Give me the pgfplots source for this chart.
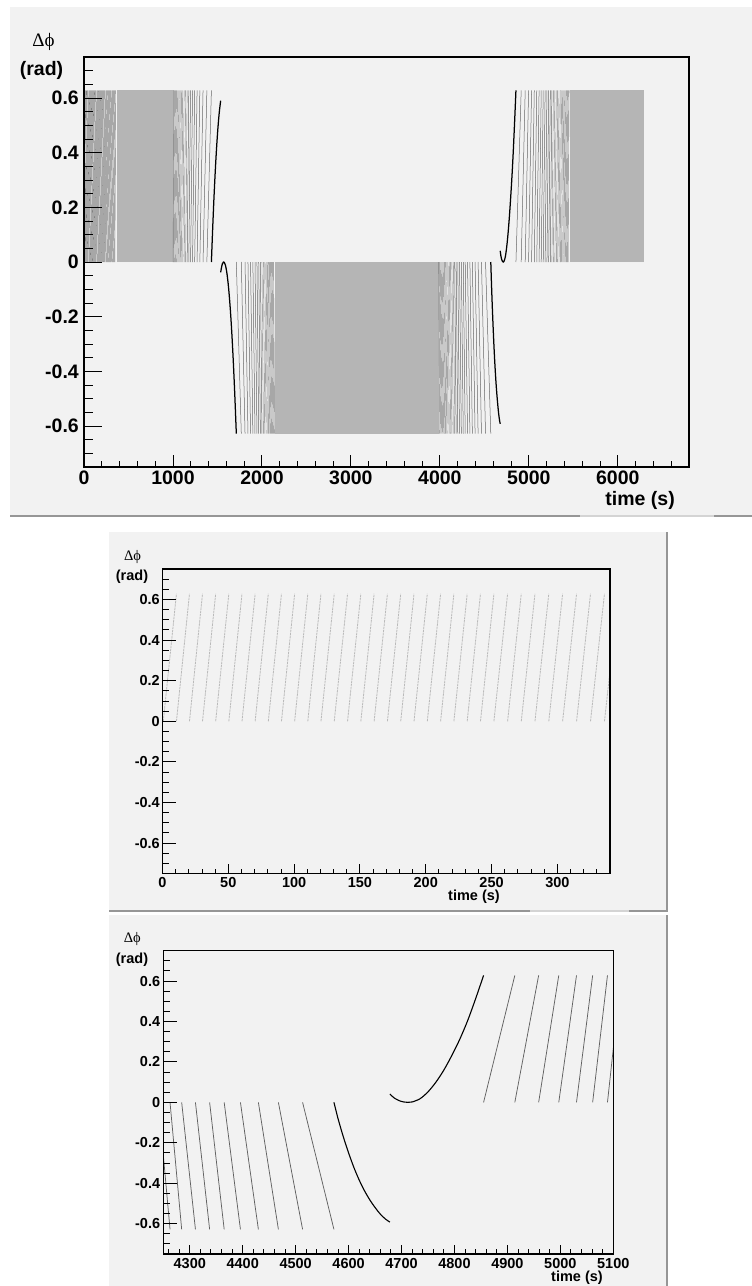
\documentclass[border=0pt]{standalone}
\usepackage{pgfplots}
\pgfplotsset{compat=1.18}
\usepackage{pgfplotstable}
\usepackage{fontspec}
\setmainfont{Liberation Sans}
\newfontfamily\greekserif{Liberation Serif}
\definecolor{panelbg}{RGB}{242,242,242}
\definecolor{shadowc}{RGB}{150,150,150}
\definecolor{shadowl}{RGB}{212,212,212}

% rising sawtooth lines, 0-357 s
\pgfplotstableread[row sep=\\]{
t y\\
0.6 0\\10.6 0.628\\nan nan\\10.6 0\\20.5 0.628\\nan nan\\20.5 0\\30.4 0.628\\nan nan\\30.4 0\\40.4 0.628\\nan nan\\
40.4 0\\50.4 0.628\\nan nan\\50.4 0\\60.4 0.628\\nan nan\\60.4 0\\70.4 0.628\\nan nan\\70.4 0\\80.4 0.628\\nan nan\\
80.4 0\\90.4 0.628\\nan nan\\90.4 0\\100.4 0.628\\nan nan\\100.4 0\\110.4 0.628\\nan nan\\110.4 0\\120.4 0.628\\nan nan\\
120.4 0\\130.5 0.628\\nan nan\\130.5 0\\140.6 0.628\\nan nan\\140.6 0\\150.7 0.628\\nan nan\\150.7 0\\160.8 0.628\\nan nan\\
160.8 0\\170.9 0.628\\nan nan\\170.9 0\\181.0 0.628\\nan nan\\181.0 0\\191.1 0.628\\nan nan\\191.1 0\\201.2 0.628\\nan nan\\
201.2 0\\211.3 0.628\\nan nan\\211.3 0\\221.4 0.628\\nan nan\\221.4 0\\231.5 0.628\\nan nan\\231.5 0\\241.6 0.628\\nan nan\\
241.6 0\\251.8 0.628\\nan nan\\251.8 0\\262.2 0.628\\nan nan\\262.2 0\\272.6 0.628\\nan nan\\272.6 0\\283.0 0.628\\nan nan\\
283.0 0\\293.5 0.628\\nan nan\\293.5 0\\304.0 0.628\\nan nan\\304.0 0\\314.6 0.628\\nan nan\\314.6 0\\325.2 0.628\\nan nan\\
325.2 0\\335.8 0.628\\nan nan\\335.8 0\\346.4 0.628\\nan nan\\346.4 0\\357.1 0.628\\
}\segA

% rising lines before the first turnaround
\pgfplotstableread[row sep=\\]{
t y\\
1000 0\\1011 0.628\\nan nan\\1011 0\\1022 0.628\\nan nan\\1022 0\\1033 0.628\\nan nan\\1033 0\\1044.5 0.628\\nan nan\\
1044.5 0\\1056.5 0.628\\nan nan\\1056.5 0\\1069 0.628\\nan nan\\1069 0\\1082 0.628\\nan nan\\1082 0\\1095.5 0.628\\nan nan\\
1095.5 0\\1110 0.628\\nan nan\\1110 0\\1125.5 0.628\\nan nan\\1125.5 0\\1142 0.628\\nan nan\\1142 0\\1159.5 0.628\\nan nan\\
1159.5 0\\1178 0.628\\nan nan\\1178 0\\1198 0.628\\nan nan\\1198 0\\1220 0.628\\nan nan\\1220 0\\1244 0.628\\nan nan\\
1244 0\\1271 0.628\\nan nan\\1271 0\\1302 0.628\\nan nan\\1302 0\\1338 0.628\\nan nan\\1338 0\\1381 0.628\\nan nan\\
1381 0\\1432 0.628\\
}\segAe

% descending lines after the first turnaround
\pgfplotstableread[row sep=\\]{
t y\\
1712 0\\1768 -0.628\\nan nan\\1768 0\\1810 -0.628\\nan nan\\1810 0\\1843 -0.628\\nan nan\\1843 0\\1872 -0.628\\nan nan\\
1872 0\\1898 -0.628\\nan nan\\1898 0\\1922 -0.628\\nan nan\\1922 0\\1944 -0.628\\nan nan\\1944 0\\1964 -0.628\\nan nan\\
1964 0\\1982.5 -0.628\\nan nan\\1982.5 0\\2000 -0.628\\nan nan\\2000 0\\2016.5 -0.628\\nan nan\\2016.5 0\\2032 -0.628\\nan nan\\
2032 0\\2046.5 -0.628\\nan nan\\2046.5 0\\2060 -0.628\\nan nan\\2060 0\\2073 -0.628\\nan nan\\2073 0\\2085.5 -0.628\\nan nan\\
2085.5 0\\2097.5 -0.628\\nan nan\\2097.5 0\\2109 -0.628\\nan nan\\2109 0\\2120 -0.628\\nan nan\\2120 0\\2131 -0.628\\nan nan\\
2131 0\\2142 -0.628\\
}\segBl

% descending lines before the second turnaround
\pgfplotstableread[row sep=\\]{
t y\\
3986 0\\3996.5 -0.628\\nan nan\\3996.5 0\\4007 -0.628\\nan nan\\4007 0\\4018 -0.628\\nan nan\\4018 0\\4029 -0.628\\nan nan\\
4029 0\\4040.5 -0.628\\nan nan\\4040.5 0\\4052.5 -0.628\\nan nan\\4052.5 0\\4065 -0.628\\nan nan\\4065 0\\4078 -0.628\\nan nan\\
4078 0\\4091.5 -0.628\\nan nan\\4091.5 0\\4105.5 -0.628\\nan nan\\4105.5 0\\4120 -0.628\\nan nan\\4120 0\\4135 -0.628\\nan nan\\
4135 0\\4150.5 -0.628\\nan nan\\4150.5 0\\4166.5 -0.628\\nan nan\\4166.5 0\\4183 -0.628\\nan nan\\4183 0\\4201 -0.628\\nan nan\\
4201 0\\4220.5 -0.628\\nan nan\\4220.5 0\\4241 -0.628\\nan nan\\4241 0\\4262.7 -0.628\\nan nan\\4262.7 0\\4284.7 -0.628\\nan nan\\
4284.7 0\\4310.7 -0.628\\nan nan\\4310.7 0\\4337.5 -0.628\\nan nan\\4337.5 0\\4365 -0.628\\nan nan\\4365 0\\4395.7 -0.628\\nan nan\\
4395.7 0\\4429.6 -0.628\\nan nan\\4429.6 0\\4467.4 -0.628\\nan nan\\4467.4 0\\4513.1 -0.628\\nan nan\\4513.1 0\\4572.3 -0.628\\
}\segBr

% rising lines after the second turnaround
\pgfplotstableread[row sep=\\]{
t y\\
4855 0\\4914 0.628\\nan nan\\4914 0\\4959 0.628\\nan nan\\4959 0\\4997 0.628\\nan nan\\4997 0\\5030.5 0.628\\nan nan\\
5030.5 0\\5061 0.628\\nan nan\\5061 0\\5089 0.628\\nan nan\\5089 0\\5115 0.628\\nan nan\\5115 0\\5139 0.628\\nan nan\\
5139 0\\5161.5 0.628\\nan nan\\5161.5 0\\5183 0.628\\nan nan\\5183 0\\5203.5 0.628\\nan nan\\5203.5 0\\5223 0.628\\nan nan\\
5223 0\\5241.5 0.628\\nan nan\\5241.5 0\\5259 0.628\\nan nan\\5259 0\\5276 0.628\\nan nan\\5276 0\\5292.5 0.628\\nan nan\\
5292.5 0\\5308.5 0.628\\nan nan\\5308.5 0\\5324 0.628\\nan nan\\5324 0\\5339 0.628\\nan nan\\5339 0\\5353.5 0.628\\nan nan\\
5353.5 0\\5367.5 0.628\\nan nan\\5367.5 0\\5381 0.628\\nan nan\\5381 0\\5394 0.628\\nan nan\\5394 0\\5406.5 0.628\\nan nan\\
5406.5 0\\5418.5 0.628\\nan nan\\5418.5 0\\5430 0.628\\nan nan\\5430 0\\5441 0.628\\nan nan\\5441 0\\5452 0.628\\
}\segC

\pgfplotstableread[row sep=\\]{
t y\\ 1432 0\\1445 0.112\\1460 0.229\\1475 0.330\\1490 0.417\\1505 0.489\\1520 0.546\\1536 0.590\\
}\curA
\pgfplotstableread[row sep=\\]{
t y\\ 1536 -0.038\\1545 -0.021\\1555 -0.007\\1565 -0.001\\1570 0\\1578 -0.002\\1590 -0.012\\1605 -0.038\\1620 -0.078\\
1635 -0.132\\1650 -0.199\\1665 -0.281\\1680 -0.377\\1695 -0.487\\1712 -0.628\\
}\curB
\pgfplotstableread[row sep=\\]{
t y\\ 4572.3 0\\4580 -0.080\\4590 -0.170\\4600 -0.250\\4610 -0.322\\4620 -0.384\\4630 -0.437\\4640 -0.482\\
4650 -0.520\\4660 -0.553\\4670 -0.578\\4678 -0.592\\
}\curC
\pgfplotstableread[row sep=\\]{
t y\\ 4678 0.041\\4686 0.022\\4695 0.009\\4704 0.002\\4712 0\\4720 0.002\\4735 0.018\\4750 0.052\\4765 0.100\\
4780 0.160\\4795 0.232\\4810 0.312\\4825 0.405\\4840 0.513\\4855 0.628\\
}\curD

\pgfplotsset{
  rootax/.style={
    scale only axis, anchor=north west, axis on top,
    axis line style={line width=1.3pt, black},
    tick align=inside, tick style={black, line width=0.9pt},
    xtick pos=bottom, ytick pos=left,
    yticklabel style={anchor=east, inner sep=0pt},
    xticklabel style={anchor=base, inner sep=0pt},
    unbounded coords=jump, scaled ticks=false,
    ymin=-0.75, ymax=0.75,
  },
  yminors/.style={minor ytick={-0.7,-0.65,-0.55,-0.5,-0.45,-0.35,-0.3,-0.25,-0.15,-0.1,-0.05,0.05,0.1,0.15,0.25,0.3,0.35,0.45,0.5,0.55,0.65,0.7}},
  ymajors/.style={ytick={-0.6,-0.4,-0.2,0,0.2,0.4,0.6}, yticklabels={-0.6,-0.4,-0.2,0,0.2,0.4,0.6}},
  xonly/.style={ytick=\empty, axis line style={draw=none}},
  fontA/.style={font=\bfseries\fontsize{19.5}{21}\selectfont},
  fontB/.style={font=\bfseries\fontsize{14.5}{16}\selectfont},
  dense/.style={draw=black!29, line width=0.4pt},
  slant/.style={draw=black!50, line width=0.4pt},
  edge/.style={draw=black!60, line width=0.5pt},
  curve/.style={draw=black, line width=1.25pt, smooth},
}

\begin{document}
\begin{tikzpicture}
\useasboundingbox (0pt,0pt) rectangle (752pt,-1286pt);
\fill[white] (0pt,0pt) rectangle (752pt,-1286pt);
% panel backgrounds
\fill[panelbg] (10pt,-7pt) rectangle (752pt,-515pt);
\fill[shadowc] (10pt,-514.5pt) rectangle (752pt,-517pt);
\fill[shadowl] (580pt,-514.5pt) rectangle (714pt,-517pt);
\fill[panelbg] (109pt,-532pt) rectangle (666pt,-910pt);
\fill[shadowc] (665.5pt,-532pt) rectangle (668pt,-912pt);
\fill[shadowc] (109pt,-909.5pt) rectangle (668pt,-912pt);
\fill[shadowl] (530pt,-909.5pt) rectangle (629pt,-912pt);
\fill[panelbg] (109pt,-914.5pt) rectangle (666pt,-1286pt);
\fill[shadowc] (665.5pt,-914.5pt) rectangle (668pt,-1286pt);

% ---------------- panel 1 ----------------
\begin{axis}[rootax, at={(84pt,-57pt)}, width=605pt, height=410pt,
  xmin=0, xmax=6800, xtick=\empty, ymajors, yminors,
  major tick length=18.2pt, minor tick length=9.1pt,
  yticklabel style={fontA, xshift=-5pt}]
\addplot[slant] table {\segA};
\addplot[dense, ycomb] coordinates {(368,0.628)(378,0.628)(389,0.628)(400,0.628)(411,0.628)(421,0.628)(432,0.628)(443,0.628)(453,0.628)(464,0.628)(475,0.628)(486,0.628)(496,0.628)(507,0.628)(518,0.628)(528,0.628)(539,0.628)(550,0.628)(561,0.628)(571,0.628)(582,0.628)(593,0.628)(603,0.628)(614,0.628)(625,0.628)(636,0.628)(646,0.628)(657,0.628)(668,0.628)(678,0.628)(689,0.628)(700,0.628)(711,0.628)(721,0.628)(732,0.628)(743,0.628)(753,0.628)(764,0.628)(775,0.628)(786,0.628)(796,0.628)(807,0.628)(818,0.628)(828,0.628)(839,0.628)(850,0.628)(861,0.628)(871,0.628)(882,0.628)(893,0.628)(903,0.628)(914,0.628)(925,0.628)(936,0.628)(946,0.628)(957,0.628)(968,0.628)(978,0.628)(989,0.628)(1000,0.628)};
\addplot[slant, restrict x to domain=1000:1160] table {\segAe};
\addplot[edge, restrict x to domain=1159:1432] table {\segAe};
\addplot[curve] table {\curA};
\addplot[curve] table {\curB};
\addplot[edge, restrict x to domain=1712:2000] table {\segBl};
\addplot[slant, restrict x to domain=1999:2142] table {\segBl};
\addplot[dense, ycomb] coordinates {(2153,-0.628)(2163,-0.628)(2174,-0.628)(2184,-0.628)(2195,-0.628)(2206,-0.628)(2216,-0.628)(2227,-0.628)(2237,-0.628)(2248,-0.628)(2259,-0.628)(2269,-0.628)(2280,-0.628)(2290,-0.628)(2301,-0.628)(2312,-0.628)(2322,-0.628)(2333,-0.628)(2343,-0.628)(2354,-0.628)(2365,-0.628)(2375,-0.628)(2386,-0.628)(2396,-0.628)(2407,-0.628)(2418,-0.628)(2428,-0.628)(2439,-0.628)(2449,-0.628)(2460,-0.628)(2471,-0.628)(2481,-0.628)(2492,-0.628)(2502,-0.628)(2513,-0.628)(2524,-0.628)(2534,-0.628)(2545,-0.628)(2555,-0.628)(2566,-0.628)(2577,-0.628)(2587,-0.628)(2598,-0.628)(2608,-0.628)(2619,-0.628)(2630,-0.628)(2640,-0.628)(2651,-0.628)(2661,-0.628)(2672,-0.628)(2683,-0.628)(2693,-0.628)(2704,-0.628)(2714,-0.628)(2725,-0.628)(2736,-0.628)(2746,-0.628)(2757,-0.628)(2767,-0.628)(2778,-0.628)(2789,-0.628)(2799,-0.628)(2810,-0.628)(2820,-0.628)(2831,-0.628)(2842,-0.628)(2852,-0.628)(2863,-0.628)(2873,-0.628)(2884,-0.628)(2895,-0.628)(2905,-0.628)(2916,-0.628)(2926,-0.628)(2937,-0.628)(2948,-0.628)(2958,-0.628)(2969,-0.628)(2979,-0.628)(2990,-0.628)(3001,-0.628)(3011,-0.628)(3022,-0.628)(3032,-0.628)(3043,-0.628)(3054,-0.628)(3064,-0.628)(3075,-0.628)(3085,-0.628)(3096,-0.628)(3107,-0.628)(3117,-0.628)(3128,-0.628)(3138,-0.628)(3149,-0.628)(3160,-0.628)(3170,-0.628)(3181,-0.628)(3191,-0.628)(3202,-0.628)(3213,-0.628)(3223,-0.628)(3234,-0.628)(3244,-0.628)(3255,-0.628)(3266,-0.628)(3276,-0.628)(3287,-0.628)(3297,-0.628)(3308,-0.628)(3319,-0.628)(3329,-0.628)(3340,-0.628)(3350,-0.628)(3361,-0.628)(3372,-0.628)(3382,-0.628)(3393,-0.628)(3403,-0.628)(3414,-0.628)(3425,-0.628)(3435,-0.628)(3446,-0.628)(3456,-0.628)(3467,-0.628)(3478,-0.628)(3488,-0.628)(3499,-0.628)(3509,-0.628)(3520,-0.628)(3531,-0.628)(3541,-0.628)(3552,-0.628)(3562,-0.628)(3573,-0.628)(3584,-0.628)(3594,-0.628)(3605,-0.628)(3615,-0.628)(3626,-0.628)(3637,-0.628)(3647,-0.628)(3658,-0.628)(3668,-0.628)(3679,-0.628)(3690,-0.628)(3700,-0.628)(3711,-0.628)(3721,-0.628)(3732,-0.628)(3743,-0.628)(3753,-0.628)(3764,-0.628)(3774,-0.628)(3785,-0.628)(3796,-0.628)(3806,-0.628)(3817,-0.628)(3827,-0.628)(3838,-0.628)(3849,-0.628)(3859,-0.628)(3870,-0.628)(3880,-0.628)(3891,-0.628)(3902,-0.628)(3912,-0.628)(3923,-0.628)(3933,-0.628)(3944,-0.628)(3955,-0.628)(3965,-0.628)(3976,-0.628)};
\addplot[slant, restrict x to domain=3986:4167] table {\segBr};
\addplot[edge, restrict x to domain=4166:4573] table {\segBr};
\addplot[curve] table {\curC};
\addplot[curve] table {\curD};
\addplot[edge, restrict x to domain=4855:5260] table {\segC};
\addplot[slant, restrict x to domain=5259:5452] table {\segC};
\addplot[dense, ycomb] coordinates {(5463,0.628)(5473,0.628)(5484,0.628)(5494,0.628)(5505,0.628)(5515,0.628)(5526,0.628)(5536,0.628)(5547,0.628)(5557,0.628)(5568,0.628)(5578,0.628)(5589,0.628)(5599,0.628)(5610,0.628)(5620,0.628)(5631,0.628)(5641,0.628)(5652,0.628)(5662,0.628)(5673,0.628)(5683,0.628)(5694,0.628)(5704,0.628)(5715,0.628)(5725,0.628)(5736,0.628)(5746,0.628)(5757,0.628)(5767,0.628)(5778,0.628)(5788,0.628)(5799,0.628)(5809,0.628)(5820,0.628)(5830,0.628)(5841,0.628)(5851,0.628)(5862,0.628)(5872,0.628)(5883,0.628)(5893,0.628)(5904,0.628)(5914,0.628)(5925,0.628)(5935,0.628)(5946,0.628)(5956,0.628)(5967,0.628)(5977,0.628)(5988,0.628)(5998,0.628)(6009,0.628)(6019,0.628)(6030,0.628)(6040,0.628)(6051,0.628)(6061,0.628)(6072,0.628)(6082,0.628)(6093,0.628)(6103,0.628)(6114,0.628)(6124,0.628)(6135,0.628)(6145,0.628)(6156,0.628)(6166,0.628)(6177,0.628)(6187,0.628)(6198,0.628)(6208,0.628)(6219,0.628)(6229,0.628)(6240,0.628)(6250,0.628)(6261,0.628)(6271,0.628)(6282,0.628)(6287,0.628)};
\end{axis}
\begin{axis}[rootax, xonly, at={(84pt,-57pt)}, width=605pt, height=410pt,
  xmin=0, xmax=6800, xtick={0,1000,...,6000}, xticklabels={0,1000,2000,3000,4000,5000,6000},
  minor xtick={200,400,...,6600},
  major tick length=12.3pt, minor tick length=6.15pt,
  xticklabel style={fontA, yshift=-17pt}]
\end{axis}

% ---------------- panel 2 ----------------
\begin{axis}[rootax, at={(162.5pt,-569pt)}, width=447.5pt, height=304.5pt,
  xmin=0, xmax=340, xtick=\empty, ymajors, yminors,
  major tick length=13.4pt, minor tick length=6.7pt,
  yticklabel style={fontB, xshift=-2.5pt}]
\addplot[draw=black!27, line width=0.8pt, dash pattern=on 2.4pt off 0.8pt] table {\segA};
\end{axis}
\begin{axis}[rootax, xonly, at={(162.5pt,-569pt)}, width=447.5pt, height=304.5pt,
  xmin=0, xmax=340, xtick={0,50,...,300}, xticklabels={0,50,100,150,200,250,300},
  minor xtick={10,20,...,330},
  major tick length=9.15pt, minor tick length=4.6pt,
  xticklabel style={fontB, yshift=-13.5pt}]
\end{axis}

% ---------------- panel 3 ----------------
\begin{axis}[rootax, at={(163.3pt,-950.7pt)}, width=450pt, height=303.3pt,
  xmin=4250, xmax=5100, xtick=\empty, ymajors, yminors,
  major tick length=13.5pt, minor tick length=6.75pt,
  yticklabel style={fontB, xshift=-3pt}]
\addplot[draw=black!62, line width=0.75pt] table {\segBr};
\addplot[draw=black, line width=1.1pt, smooth] table {\curC};
\addplot[draw=black, line width=1.1pt, smooth] table {\curD};
\addplot[draw=black!62, line width=0.75pt] table {\segC};
\end{axis}
\begin{axis}[rootax, xonly, at={(163.3pt,-950.7pt)}, width=450pt, height=303.3pt,
  xmin=4250, xmax=5100, xtick={4300,4400,...,5100}, xticklabels={4300,4400,4500,4600,4700,4800,4900,5000,5100},
  minor xtick={4260,4280,...,5080},
  major tick length=9.1pt, minor tick length=4.55pt,
  xticklabel style={fontB, yshift=-14.3pt}]
\end{axis}

% axis titles
\node[inner sep=0pt, font=\greekserif\fontsize{19}{21}\selectfont] at (43.6pt,-41.7pt) {Δϕ};
\node[inner sep=0pt, font=\bfseries\fontsize{19.5}{21}\selectfont] at (41.5pt,-70pt) {(rad)};
\node[inner sep=0pt, anchor=east, font=\bfseries\fontsize{19.5}{21}\selectfont] at (675pt,-500pt) {time (s)};

\node[inner sep=0pt, font=\greekserif\fontsize{14.5}{16}\selectfont] at (132.5pt,-556.7pt) {Δϕ};
\node[inner sep=0pt, font=\bfseries\fontsize{14.5}{16}\selectfont] at (132pt,-577pt) {(rad)};
\node[inner sep=0pt, anchor=east, font=\bfseries\fontsize{14.5}{16}\selectfont] at (500pt,-896.7pt) {time (s)};

\node[inner sep=0pt, font=\greekserif\fontsize{14.5}{16}\selectfont] at (132.3pt,-939pt) {Δϕ};
\node[inner sep=0pt, font=\bfseries\fontsize{14.5}{16}\selectfont] at (132pt,-960pt) {(rad)};
\node[inner sep=0pt, anchor=east, font=\bfseries\fontsize{14.5}{16}\selectfont] at (603pt,-1278pt) {time (s)};
\end{tikzpicture}
\end{document}
